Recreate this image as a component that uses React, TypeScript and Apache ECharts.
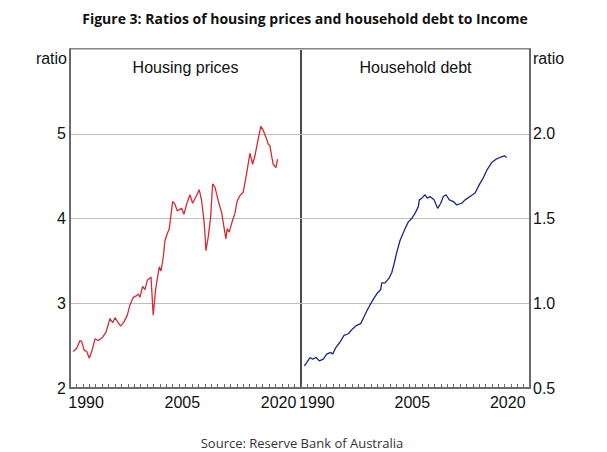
import React, { useEffect, useRef } from "react";
import * as echarts from "echarts";

const titleText = "Figure 3: Ratios of housing prices and household debt to Income";
const sourceText = "Source: Reserve Bank of Australia";
const leftPanelTitle = "Housing prices";
const rightPanelTitle = "Household debt";

const housingYears = [
  1988.51, 1989.04, 1989.56, 1989.82, 1990.18, 1990.6, 1991.01, 1991.38, 1991.89, 1992.41,
  1993.09, 1993.61, 1994.23, 1994.65, 1995.01, 1995.43, 1995.9, 1996.41, 1996.93, 1997.35,
  1997.86, 1998.39, 1998.64, 1998.9, 1999.32, 1999.68, 2000.04, 2000.35, 2000.62, 2000.97,
  2001.35, 2001.91, 2002.17, 2002.53, 2002.8, 2003.16, 2003.47, 2004.0, 2004.36, 2004.71,
  2005.13, 2005.4, 2005.76, 2006.18, 2006.69, 2007.11, 2007.58, 2008.14, 2008.51, 2008.87,
  2009.03, 2009.18, 2009.54, 2009.92, 2010.23, 2010.59, 2011.1, 2011.63, 2011.99, 2012.3,
  2012.5, 2012.81, 2013.34, 2013.7, 2014.06, 2014.48, 2014.99, 2015.52, 2016.04, 2016.46,
  2016.82, 2017.33, 2017.75, 2018.11, 2018.53, 2018.89, 2019.15, 2019.42, 2019.67, 2020.09,
  2020.35,
];
const housingValues = [
  2.43, 2.47, 2.56, 2.55, 2.45, 2.43, 2.35, 2.43, 2.58, 2.56,
  2.6, 2.66, 2.82, 2.77, 2.83, 2.78, 2.73, 2.78, 2.86, 2.98,
  3.07, 3.09, 3.11, 3.07, 3.2, 3.16, 3.27, 3.29, 3.31, 2.86,
  3.17, 3.43, 3.38, 3.54, 3.74, 3.82, 3.88, 4.2, 4.17, 4.09,
  4.11, 4.12, 4.05, 4.17, 4.28, 4.18, 4.25, 4.34, 4.21, 3.98,
  3.82, 3.62, 3.78, 4.02, 4.41, 4.37, 4.21, 4.07, 3.9, 3.76,
  3.88, 3.84, 3.98, 4.06, 4.21, 4.27, 4.31, 4.53, 4.77, 4.64,
  4.74, 4.94, 5.09, 5.04, 4.96, 4.88, 4.86, 4.74, 4.64, 4.6,
  4.7,
];

const debtYears = [
  1988.52, 1988.9, 1989.42, 1989.84, 1990.36, 1990.88, 1991.51, 1992.04, 1992.67, 1992.98,
  1993.5, 1994.13, 1994.76, 1995.44, 1996.13, 1996.76, 1997.39, 1997.91, 1998.42, 1998.85,
  1999.48, 2000.0, 2000.53, 2000.69, 2001.21, 2001.88, 2002.26, 2002.62, 2003.05, 2003.57,
  2004.35, 2004.87, 2005.41, 2005.92, 2006.44, 2006.6, 2006.98, 2007.5, 2007.86, 2008.28,
  2008.91, 2009.49, 2009.97, 2010.37, 2010.8, 2011.32, 2011.95, 2012.48, 2013.27, 2013.79,
  2014.57, 2015.36, 2016.03, 2016.66, 2017.29, 2017.98, 2018.66, 2019.29, 2019.97, 2020.34,
];
const debtValues = [
  0.63, 0.65, 0.68, 0.67, 0.68, 0.66, 0.67, 0.7, 0.71, 0.7,
  0.74, 0.77, 0.81, 0.82, 0.85, 0.87, 0.88, 0.92, 0.96, 0.99,
  1.03, 1.06, 1.08, 1.12, 1.12, 1.15, 1.18, 1.23, 1.3, 1.37,
  1.44, 1.48, 1.5, 1.53, 1.57, 1.61, 1.62, 1.64, 1.62, 1.63,
  1.61, 1.56, 1.59, 1.63, 1.64, 1.61, 1.6, 1.58, 1.59, 1.61,
  1.63, 1.65, 1.7, 1.74, 1.79, 1.83, 1.85, 1.86, 1.87, 1.86,
];

const yearTicks = Array.from({ length: 37 }, (_, i) => 1988 + i);
const labelYears = [1990, 2005, 2020];

const FONT = "Arial, 'Liberation Sans', sans-serif";

export default function App() {
  const ref = useRef<HTMLDivElement>(null);
  useEffect(() => {
    if (!ref.current) return;
    const chart = echarts.init(ref.current, undefined, { renderer: "svg" });
    const axisGray = "#6b6b6b";
    const makeX = (gridIndex: number) => ({
      type: "value",
      gridIndex,
      min: 1988,
      max: 2024,
      axisLine: { show: true, lineStyle: { color: axisGray, width: 2 } },
      axisTick: {
        show: true,
        inside: true,
        length: 4,
        customValues: yearTicks,
        lineStyle: { color: axisGray, width: 1 },
      },
      axisLabel: {
        show: true,
        customValues: labelYears.map((y) => y + 0.5),
        formatter: (v: number) => String(Math.floor(v)),
        color: "#111",
        fontSize: 16,
        fontFamily: FONT,
        margin: 6,
      },
      splitLine: { show: false },
    });
    chart.setOption({
      animation: false,
      backgroundColor: "#fff",
      grid: [
        { left: 70, top: 49, width: 231, height: 339, show: true, borderColor: "#111", borderWidth: 1, backgroundColor: "transparent" },
        { left: 301, top: 49, width: 229, height: 339, show: true, borderColor: "#111", borderWidth: 1, backgroundColor: "transparent" },
      ],
      xAxis: [makeX(0), makeX(1)],
      yAxis: [
        {
          type: "value",
          gridIndex: 0,
          min: 2,
          max: 6,
          interval: 1,
          position: "left",
          axisLine: { show: true, lineStyle: { color: axisGray, width: 2 } },
          axisTick: { show: false },
          axisLabel: {
            color: "#111",
            fontSize: 16,
            fontFamily: FONT,
            margin: 4,
            formatter: (v: number) => (v === 6 ? "" : String(v)),
          },
          splitLine: { show: true, lineStyle: { color: "#bdbdbd", width: 1 } },
        },
        {
          type: "value",
          gridIndex: 1,
          min: 0.5,
          max: 2.5,
          interval: 0.5,
          position: "right",
          axisLine: { show: true, lineStyle: { color: axisGray, width: 2 } },
          axisTick: { show: false },
          axisLabel: {
            color: "#111",
            fontSize: 16,
            fontFamily: FONT,
            margin: 3,
            formatter: (v: number) => (v === 2.5 ? "" : v.toFixed(1)),
          },
          splitLine: { show: true, lineStyle: { color: "#bdbdbd", width: 1 } },
        },
      ],
      series: [
        {
          type: "line",
          xAxisIndex: 0,
          yAxisIndex: 0,
          data: housingYears.map((y, i) => [y, housingValues[i]]),
          showSymbol: false,
          lineStyle: { color: "#d42a36", width: 1.3 },
        },
        {
          type: "line",
          xAxisIndex: 1,
          yAxisIndex: 1,
          data: debtYears.map((y, i) => [y, debtValues[i]]),
          showSymbol: false,
          lineStyle: { color: "#1c2780", width: 1.3 },
        },
      ],
      graphic: [
        { type: "text", x: 305, y: 18, style: { text: titleText, fontSize: 14, fontWeight: "bold", fontFamily: "'Open Sans', sans-serif", fill: "#111", align: "center", verticalAlign: "middle" } },
        { type: "text", x: 302, y: 443, style: { text: sourceText, fontSize: 13, fontFamily: "'Open Sans', sans-serif", fill: "#333", align: "center", verticalAlign: "middle" } },
        { type: "text", x: 185.5, y: 67, style: { text: leftPanelTitle, fontSize: 16, fontFamily: FONT, fill: "#111", align: "center", verticalAlign: "middle" } },
        { type: "text", x: 415.5, y: 67, style: { text: rightPanelTitle, fontSize: 16, fontFamily: FONT, fill: "#111", align: "center", verticalAlign: "middle" } },
        { type: "text", x: 67, y: 58, style: { text: "ratio", fontSize: 16, fontFamily: FONT, fill: "#111", align: "right", verticalAlign: "middle" } },
        { type: "text", x: 533, y: 58, style: { text: "ratio", fontSize: 16, fontFamily: FONT, fill: "#111", align: "left", verticalAlign: "middle" } },
      ],
    });
    return () => chart.dispose();
  }, []);
  return <div ref={ref} style={{ width: 607, height: 452, position: "absolute", left: 0, top: 0 }} />;
}
